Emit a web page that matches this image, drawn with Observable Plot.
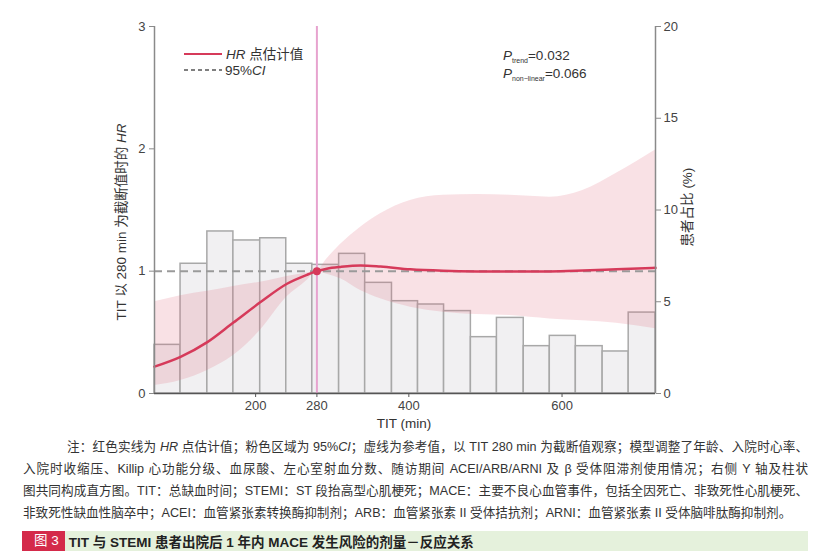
<!DOCTYPE html>
<html>
<head>
<meta charset="utf-8">
<script src="https://cdn.jsdelivr.net/npm/d3@7"></script>
<script src="https://cdn.jsdelivr.net/npm/@observablehq/plot@0.6"></script>
<style>
  body { margin:0; background:#fff; font-family:"Liberation Sans","Noto Sans CJK SC",sans-serif; }
  #chart { width:830px; height:435px; }
  .notes { margin:1px 0 0 23px; width:785px; font-size:12.6px; line-height:22px; color:#333; }
  .notes div { white-space:nowrap; text-align:justify; text-align-last:justify; }
  .notes div.last { text-align-last:left; }
  .notes div.first { padding-left:44px; }
  .cap { margin:7px 0 0 22px; width:786px; height:20px; background:#e5f1dc; display:flex; align-items:center; font-size:13.5px; font-weight:bold; color:#222; }
  .cap .tag { background:#d42a4a; color:#fff; height:20px; line-height:20px; padding:0 6px 0 12px; margin-right:4px; font-weight:normal; }
</style>
</head>
<body>
<div id="chart"></div>
<div class="notes">
  <div class="first">注：红色实线为 <i>HR</i> 点估计值；粉色区域为 95%<i>CI</i>；虚线为参考值，以 TIT 280 min 为截断值观察；模型调整了年龄、入院时心率、</div>
  <div>入院时收缩压、Killip 心功能分级、血尿酸、左心室射血分数、随访期间 ACEI/ARB/ARNI 及 β 受体阻滞剂使用情况；右侧 Y 轴及柱状</div>
  <div>图共同构成直方图。TIT：总缺血时间；STEMI：ST 段抬高型心肌梗死；MACE：主要不良心血管事件，包括全因死亡、非致死性心肌梗死、</div>
  <div class="last">非致死性缺血性脑卒中；ACEI：血管紧张素转换酶抑制剂；ARB：血管紧张素 II 受体拮抗剂；ARNI：血管紧张素 II 受体脑啡肽酶抑制剂。</div>
</div>
<div class="cap"><span class="tag">图 3</span>TIT 与 STEMI 患者出院后 1 年内 MACE 发生风险的剂量－反应关系</div>
<script>
// ---- data ----
const xDomain = [68, 722];
const xTicks = [200, 280, 400, 600];
const hrTicks = [0, 1, 2, 3];
const pctTicks = [0, 5, 10, 15, 20];
const pctMax = 20, hrMax = 3;
const cutoff = 280;
const binEdges = [68, 102, 137, 171, 206, 240, 274, 309, 343, 378, 412, 446, 481, 515, 550, 584, 618, 653, 687, 722];
const binPct = [2.65, 7.07, 8.83, 8.34, 8.46, 7.07, 7.01, 7.61, 6.03, 5.03, 4.85, 4.49, 3.07, 4.12, 2.58, 3.14, 2.58, 2.29, 4.41];
const curveX =  [68, 102, 137, 171, 206, 241, 267, 280, 293, 311, 337, 363, 402, 445, 489, 532, 584, 627, 671, 722];
const curveHR = [0.22, 0.30, 0.42, 0.58, 0.745, 0.897, 0.97, 1.0, 1.02, 1.035, 1.047, 1.038, 1.015, 1.003, 0.998, 0.997, 0.998, 1.005, 1.015, 1.027];
const curveLo = [0.065, 0.106, 0.188, 0.31, 0.515, 0.79, 0.924, 1.0, 0.975, 0.938, 0.842, 0.774, 0.706, 0.665, 0.646, 0.638, 0.61, 0.595, 0.575, 0.53];
const curveHi = [0.75, 0.80, 0.836, 0.875, 0.91, 0.957, 0.985, 1.0, 1.10, 1.22, 1.36, 1.47, 1.578, 1.62, 1.627, 1.62, 1.605, 1.66, 1.80, 1.99];

const pctToHR = hrMax / pctMax;
const bins = binPct.map((p, i) => ({x1: binEdges[i], x2: binEdges[i + 1], pct: p}));
const curve = curveX.map((x, i) => ({x, hr: curveHR[i], lo: curveLo[i], hi: curveHi[i]}));

const red = "#d63a5a";
const axisCol = "#8a8a8a";

const plot = Plot.plot({
  width: 830, height: 435,
  marginLeft: 154, marginRight: 175, marginTop: 26, marginBottom: 42,
  style: {fontFamily: "Liberation Sans, Noto Sans CJK SC, sans-serif", fontSize: "13px", color: "#444", background: "#fff"},
  x: {domain: xDomain},
  y: {domain: [0, hrMax]},
  marks: [
    Plot.rect(bins, {x1: "x1", x2: "x2", y1: 0, y2: d => d.pct * pctToHR, fill: "#f1f0f2", stroke: "#a8a8a8", strokeWidth: 1.5, inset: 0}),
    Plot.areaY(curve, {x: "x", y1: "lo", y2: "hi", fill: "#e0677f", fillOpacity: 0.2, curve: "monotone-x"}),
    Plot.ruleY([1], {stroke: "#9a9a9a", strokeWidth: 2, strokeDasharray: "8,5"}),
    Plot.ruleX([cutoff], {stroke: "#e7a3cf", strokeWidth: 2}),
    Plot.line(curve, {x: "x", y: "hr", stroke: red, strokeWidth: 2.5, curve: "monotone-x"}),
    Plot.dot([{x: cutoff, hr: 1}], {x: "x", y: "hr", r: 4, fill: red}),
    Plot.ruleX(xDomain, {stroke: axisCol, strokeWidth: 1.5}),
    Plot.ruleY([0], {stroke: "#555", strokeWidth: 1.5}),
    Plot.axisY(hrTicks, {anchor: "left", tickSize: 5, tickPadding: 4, label: null, stroke: axisCol, tickFormat: d => String(d)}),
    Plot.axisY(pctTicks.map(v => v * pctToHR), {anchor: "right", tickSize: 5, tickPadding: 3, label: null, stroke: axisCol, tickFormat: d => String(Math.round(d / pctToHR))}),
    Plot.axisX(xTicks, {anchor: "bottom", tickSize: 4, tickPadding: 3, label: null, stroke: "#555", tickFormat: d => String(d)})
  ]
});
document.getElementById("chart").appendChild(plot);

// ---- annotations (text) ----
const svg = d3.select(plot);
const g = svg.append("g").attr("font-family", "Liberation Sans, Noto Sans CJK SC, sans-serif").attr("fill", "#333").attr("text-anchor", "start");

// legend
g.append("line").attr("x1", 184).attr("x2", 222).attr("y1", 54).attr("y2", 54).attr("stroke", red).attr("stroke-width", 2);
const l1 = g.append("text").attr("x", 226).attr("y", 59).attr("font-size", 13.5);
l1.append("tspan").attr("font-style", "italic").text("HR");
l1.append("tspan").text(" 点估计值");
g.append("line").attr("x1", 184).attr("x2", 222).attr("y1", 70).attr("y2", 70).attr("stroke", "#555").attr("stroke-width", 1.6).attr("stroke-dasharray", "4,3");
const l2 = g.append("text").attr("x", 225).attr("y", 75).attr("font-size", 13.5);
l2.append("tspan").text("95%");
l2.append("tspan").attr("font-style", "italic").text("CI");

// P values
function pText(y, sub, val) {
  const t = g.append("text").attr("x", 503).attr("y", y).attr("font-size", 13.5);
  t.append("tspan").attr("font-style", "italic").text("P");
  t.append("tspan").attr("font-size", 7).attr("dy", 3).text(sub);
  t.append("tspan").attr("dy", -3).text("=" + val);
}
pText(60, "trend", "0.032");
pText(78, "non\u2212linear", "0.066");

// axis titles
const yt = g.append("text").attr("transform", "translate(126,222) rotate(-90)").attr("text-anchor", "middle").attr("font-size", 13.5);
yt.append("tspan").text("TIT 以 280 min 为截断值时的 ");
yt.append("tspan").attr("font-style", "italic").text("HR");
g.append("text").attr("transform", "translate(692,207) rotate(-90)").attr("text-anchor", "middle").attr("font-size", 13.5).text("患者占比 (%)");
g.append("text").attr("x", 404).attr("y", 428).attr("text-anchor", "middle").attr("font-size", 13.5).text("TIT (min)");
</script>
</body>
</html>
